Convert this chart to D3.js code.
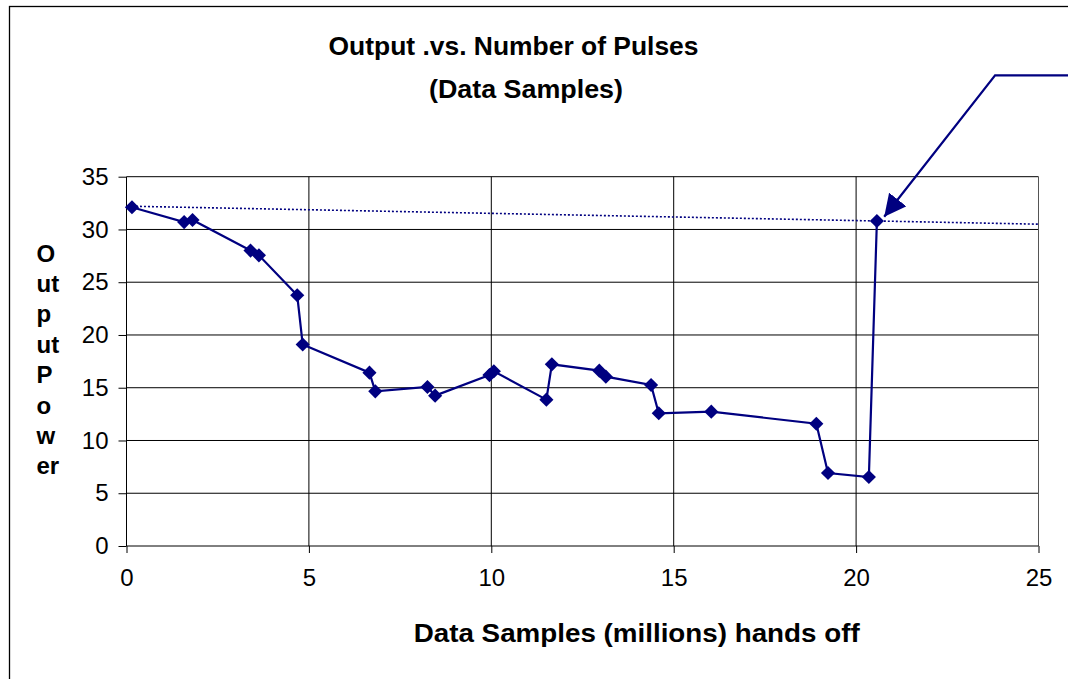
<!DOCTYPE html>
<html>
<head>
<meta charset="utf-8">
<script src="https://cdn.jsdelivr.net/npm/d3@7"></script>
<style>
  body { margin: 0; background: #fff; }
  text { font-family: "Liberation Sans", Arial, sans-serif; fill: #000; }
</style>
</head>
<body>
<div id="chart"></div>
<script>
// data (millions of samples vs output power)
let samples = [0.15, 1.58, 1.81, 3.40, 3.63, 4.68, 4.83, 6.66, 6.82, 8.25, 8.46, 9.95,
    10.07, 11.51, 11.66, 12.96, 13.14, 14.38, 14.59, 16.03, 18.91, 19.23, 20.35, 20.57];
let power = [32.1, 30.7, 30.9, 28.0, 27.55, 23.76, 19.1, 16.43, 14.66, 15.07, 14.25, 16.2,
    16.56, 13.87, 17.22, 16.62, 16.05, 15.26, 12.58, 12.73, 11.59, 6.92, 6.54, 30.8];

// dotted reference line
let trendX = [0.15, 25];
let trendY = [32.2, 30.5];

// callout arrow (data coordinates): corner, tip
let arrowX = [23.81, 20.77];
let arrowY = [44.6, 31.2];

let xTicks = [0, 5, 10, 15, 20, 25];
let yTicks = [0, 5, 10, 15, 20, 25, 30, 35];
let yLabelLines = ["O", "ut", "p", "ut", "P", "o", "w", "er"];

let svgWidth = 1068;
let svgHeight = 679;

let plot = { left: 126.5, right: 1038.5, top: 176.7, bottom: 546 };
let navy = "#000080";

var svg = d3.select("#chart")
    .append("svg")
    .attr("width", svgWidth)
    .attr("height", svgHeight);

svg.append("rect")
    .attr("width", svgWidth).attr("height", svgHeight)
    .attr("fill", "#fff");

// outer chart border (cut off on right and bottom)
svg.append("rect")
    .attr("x", 9.5).attr("y", 6.5)
    .attr("width", 1200).attr("height", 800)
    .attr("fill", "none")
    .attr("stroke", "#000")
    .attr("stroke-width", 1.3);

var xScale = d3.scaleLinear().domain([0, 25]).range([plot.left, plot.right]);
var yScale = d3.scaleLinear().domain([0, 35]).range([plot.bottom, plot.top]);

// gridlines
svg.append("g")
    .selectAll("line")
    .data(yTicks.slice(1))
    .enter()
    .append("line")
    .attr("x1", plot.left).attr("x2", plot.right)
    .attr("y1", d => yScale(d)).attr("y2", d => yScale(d))
    .attr("stroke", "#000")
    .attr("stroke-width", 1);

svg.append("g")
    .selectAll("line")
    .data(xTicks.slice(1))
    .enter()
    .append("line")
    .attr("x1", d => xScale(d)).attr("x2", d => xScale(d))
    .attr("y1", plot.top).attr("y2", plot.bottom)
    .attr("stroke", d => d === 25 ? "#555" : "#000")
    .attr("stroke-width", 1);

// axes
var bottomAxis = d3.axisBottom(xScale).tickValues(xTicks).tickSize(7).tickPadding(9);
var leftAxis = d3.axisLeft(yScale).tickValues(yTicks).tickSize(8).tickPadding(10);

var xAxis = svg.append("g")
    .attr("transform", `translate(0, ${plot.bottom})`)
    .call(bottomAxis);
xAxis.select(".domain").attr("stroke", "#000").attr("d", `M${plot.left},0H${plot.right}`);
xAxis.selectAll("text")
    .attr("font-family", "Liberation Sans, Arial, sans-serif")
    .attr("font-size", "24px")
    .attr("dy", "1em");

var yAxis = svg.append("g")
    .attr("transform", `translate(${plot.left}, 0)`)
    .call(leftAxis);
yAxis.select(".domain").attr("d", `M0,${plot.bottom}V${plot.top}`);
yAxis.selectAll("text")
    .attr("font-family", "Liberation Sans, Arial, sans-serif")
    .attr("font-size", "24px");

// dotted trend line
svg.append("line")
    .attr("x1", xScale(trendX[0])).attr("y1", yScale(trendY[0]))
    .attr("x2", xScale(trendX[1])).attr("y2", yScale(trendY[1]))
    .attr("stroke", navy)
    .attr("stroke-width", 1.6)
    .attr("stroke-dasharray", "2,2");

// series line + diamond markers
var line = d3.line()
    .x((d, i) => xScale(samples[i]))
    .y(d => yScale(d));

svg.append("path")
    .datum(power)
    .attr("d", line)
    .attr("fill", "none")
    .attr("stroke", navy)
    .attr("stroke-width", 2.2);

svg.append("g")
    .selectAll("path")
    .data(power)
    .enter()
    .append("path")
    .attr("d", d3.symbol().type(d3.symbolSquare).size(100))
    .attr("transform", (d, i) => `translate(${xScale(samples[i])}, ${yScale(d)}) rotate(45)`)
    .attr("fill", navy);

// callout arrow
svg.append("defs").append("marker")
    .attr("id", "head")
    .attr("viewBox", "0 0 20 20")
    .attr("refX", 20).attr("refY", 10)
    .attr("markerWidth", 22).attr("markerHeight", 22)
    .attr("markerUnits", "userSpaceOnUse")
    .attr("orient", "auto")
    .append("path")
    .attr("d", "M0,0L20,10L0,20Z")
    .attr("fill", navy);

svg.append("path")
    .attr("d", `M${svgWidth},${yScale(arrowY[0])}H${xScale(arrowX[0])}L${xScale(arrowX[1])},${yScale(arrowY[1])}`)
    .attr("fill", "none")
    .attr("stroke", navy)
    .attr("stroke-width", 2.2)
    .attr("marker-end", "url(#head)");

// titles
svg.append("text")
    .attr("x", 513.5).attr("y", 55)
    .attr("text-anchor", "middle")
    .attr("font-size", "26px")
    .attr("font-weight", "bold")
    .attr("textLength", 370)
    .attr("lengthAdjust", "spacingAndGlyphs")
    .text("Output .vs. Number of Pulses");

svg.append("text")
    .attr("x", 526).attr("y", 98)
    .attr("text-anchor", "middle")
    .attr("font-size", "26px")
    .attr("font-weight", "bold")
    .attr("textLength", 194)
    .attr("lengthAdjust", "spacingAndGlyphs")
    .text("(Data Samples)");

svg.append("text")
    .attr("x", 636.7).attr("y", 641.5)
    .attr("text-anchor", "middle")
    .attr("font-size", "26px")
    .attr("font-weight", "bold")
    .attr("textLength", 446)
    .attr("lengthAdjust", "spacingAndGlyphs")
    .text("Data Samples (millions) hands off");

// stacked y-axis label
svg.append("g")
    .selectAll("text")
    .data(yLabelLines)
    .enter()
    .append("text")
    .attr("x", 36.5)
    .attr("y", (d, i) => 261.5 + i * 30.4)
    .attr("font-size", "24px")
    .attr("font-weight", "bold")
    .text(d => d);
</script>
</body>
</html>
